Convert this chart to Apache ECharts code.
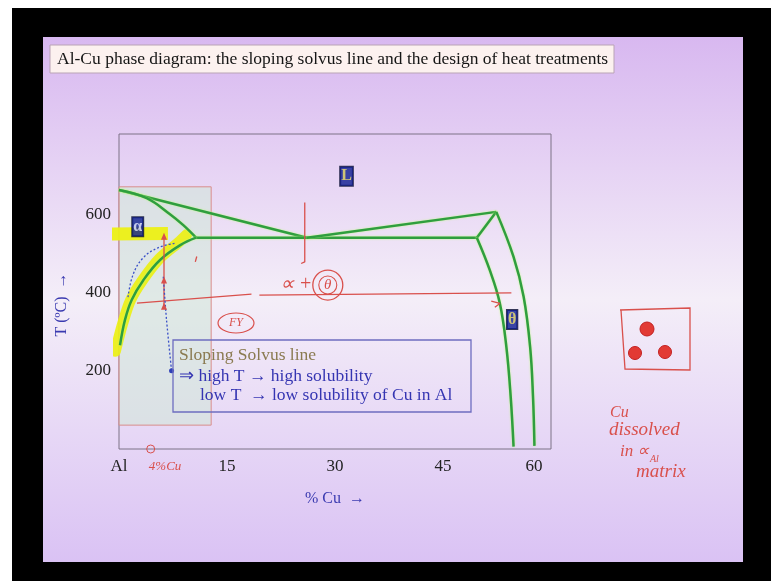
<!DOCTYPE html>
<html>
<head>
<meta charset="utf-8">
<script src="https://cdn.jsdelivr.net/npm/echarts@6/dist/echarts.min.js"></script>
<style>
  html, body { margin: 0; padding: 0; background: #ffffff; }
  #chart { width: 771px; height: 581px; }
</style>
</head>
<body>
<div id="chart"></div>
<script>
// Axis ticks
const xTickLabels = ['Al', '15', '30', '45', '60'];
const yTickLabels = [200, 400, 600];

// Al–Cu phase boundaries: [wt% Cu, T (°C)]
const liquidusAl    = [[0, 662], [26.1, 540]];
const solidusAl     = [[0, 662], [3.85, 641], [7.08, 600], [8.93, 572], [10.7, 540]];
const eutecticLine  = [[10.7, 540], [49.7, 540]];
const liquidusTheta = [[26.1, 540], [52.4, 606]];
const thetaPeak     = [[52.4, 606], [49.7, 540]];
const thetaLeft     = [[49.7, 540], [51.5, 457], [52.9, 372], [53.8, 261], [54.4, 134], [54.8, 6]];
const thetaRight    = [[52.4, 606], [54.8, 491], [56.2, 389], [57.1, 261], [57.5, 134], [57.7, 8]];
const solvus        = [[10.7, 540], [8.5, 521], [5.7, 483], [3.4, 432], [1.76, 381], [0.83, 330], [0.14, 265]];

// Highlighter strokes
const solvusHighlight = [[-0.5, 250], [0.5, 320], [1.6, 380], [3.3, 432], [5.6, 486], [8.2, 527], [9.4, 548]];
const alphaHighlight  = [[-2.0, 549], [6.8, 551]];

// Phase field labels
const phaseLabels = [
  { name: 'L', value: [31.6, 697] },
  { name: 'α', value: [2.6, 568] },
  { name: 'θ', value: [54.6, 331] }
];

// Pen annotations (data space)
const agingLevelA  = [[2.5, 373], [18.4, 396]];
const agingLevelB  = [[19.5, 393], [54.5, 399]];
const agingArrow   = [[51.7, 378], [52.9, 372], [52.2, 362]];
const eutecticDrop = [[25.8, 630], [25.8, 478], [25.3, 474]];
const quenchPath   = [[6.25, 544], [6.25, 432], [6.25, 365]];
const smallTick    = [[10.8, 492], [10.6, 478]];
const dottedBand   = [[1.25, 388], [1.94, 445], [3.33, 488], [5.4, 514], [7.8, 526]];
const dottedDrop   = [[6.15, 440], [6.6, 330], [7.3, 200]];
const shadedRegion = [[0, 61], [12.8, 670]];

const GREEN = '#2f9e3f';
const RED = '#d9504c';
const SERIF = 'Liberation Serif';

function boundary(data, smooth) {
  return {
    type: 'line', data: data, symbol: 'none', smooth: smooth || false, clip: false,
    lineStyle: { color: GREEN, width: 2.5, shadowColor: 'rgba(190,255,120,0.9)', shadowBlur: 2 },
    z: 5, silent: true
  };
}
function pen(data, extra) {
  return Object.assign({
    type: 'line', data: data, symbol: 'none', clip: false, smooth: 0.2,
    lineStyle: { color: RED, width: 1.3 }, z: 6, silent: true
  }, extra || {});
}

const chart = echarts.init(document.getElementById('chart'), null, { renderer: 'canvas' });

const option = {
  animation: false,
  backgroundColor: '#ffffff',
  grid: { left: 119, top: 134, width: 432, height: 315, show: true,
          borderColor: '#7d7286', borderWidth: 1, backgroundColor: 'transparent' },
  xAxis: {
    type: 'value', min: 0, max: 60, interval: 15,
    name: '% Cu  →', nameLocation: 'middle', nameGap: 42,
    nameTextStyle: { color: '#3a3ab0', fontFamily: SERIF, fontSize: 16 },
    axisLine: { show: false }, axisTick: { show: false }, splitLine: { show: false },
    axisLabel: {
      margin: 9, color: '#222', fontFamily: SERIF, fontSize: 17,
      formatter: function (v) {
        const i = Math.round(v / 15);
        if (i === 4) return '{s|' + xTickLabels[i] + '}';
        return xTickLabels[i] || '';
      },
      rich: { s: { color: '#222', fontFamily: SERIF, fontSize: 17, padding: [0, 34, 0, 0] } }
    }
  },
  yAxis: {
    type: 'value', min: 0, max: 805, interval: 200,
    name: 'T (ºC)  →', nameLocation: 'middle', nameGap: 49, nameRotate: 90,
    nameTextStyle: { color: '#3a3ab0', fontFamily: SERIF, fontSize: 16, padding: [0, 26, 0, 0] },
    axisLine: { show: false }, axisTick: { show: false }, splitLine: { show: false },
    axisLabel: {
      margin: 8, color: '#222', fontFamily: SERIF, fontSize: 17,
      formatter: function (v) { return yTickLabels.indexOf(v) >= 0 ? String(v) : ''; }
    }
  },
  series: [
    // highlighter underneath
    { type: 'line', data: solvusHighlight, symbol: 'none', smooth: 0.3, clip: false, z: 3, silent: true,
      lineStyle: { color: 'rgba(236,240,20,0.92)', width: 11, cap: 'round' } },
    { type: 'line', data: alphaHighlight, symbol: 'none', clip: false, z: 3, silent: true,
      lineStyle: { color: 'rgba(236,240,20,0.95)', width: 13 } },
    // shaded alpha region via markArea
    { type: 'line', data: [], symbol: 'none', z: 1, silent: true,
      markArea: { silent: true,
        itemStyle: { color: 'rgba(210,230,218,0.6)', borderColor: '#d98c8c', borderWidth: 1 },
        data: [[{ coord: shadedRegion[0] }, { coord: shadedRegion[1] }]] } },
    boundary(liquidusAl),
    boundary(solidusAl, 0.4),
    boundary(eutecticLine),
    boundary(liquidusTheta),
    boundary(thetaPeak),
    boundary(thetaLeft, 0.4),
    boundary(thetaRight, 0.4),
    boundary(solvus, 0.4),
    // pen marks
    pen(agingLevelA),
    pen(agingLevelB),
    pen(agingArrow, { smooth: false }),
    pen(eutecticDrop, { smooth: false }),
    pen(quenchPath, { smooth: false, symbol: 'triangle', symbolSize: [6, 7], showSymbol: true,
      itemStyle: { color: RED } }),
    pen(smallTick, { smooth: false }),
    { type: 'line', data: dottedBand, symbol: 'none', smooth: 0.4, clip: false, z: 6, silent: true,
      lineStyle: { color: '#3a50c8', width: 1.3, type: [2, 2] } },
    { type: 'line', data: dottedDrop, smooth: 0.3, clip: false, z: 6, silent: true,
      symbol: function (v, p) { return p.dataIndex === dottedDrop.length - 1 ? 'circle' : 'none'; },
      symbolSize: 5, showSymbol: true, itemStyle: { color: '#2f40b8' },
      lineStyle: { color: '#3a50c8', width: 1.3, type: [2, 2] } },
    // phase labels
    { type: 'scatter', symbolSize: 0, z: 8, silent: true,
      data: phaseLabels.map(function (d) {
        return { name: d.name, value: d.value,
          label: { color: d.name === 'α' ? '#e8ecff' : '#f3e36a' } };
      }),
      label: { show: true, position: 'inside', formatter: '{b}',
        fontFamily: SERIF, fontSize: 16, fontWeight: 'bold',
        backgroundColor: '#0c1c90', borderColor: '#050a30', borderWidth: 1, padding: [2, 1, 1, 1] } }
  ]
};

chart.setOption(option);

// Slide furniture and pen notes placed around the plot
function px(pt) { return chart.convertToPixel({ gridIndex: 0 }, pt); }
const thetaCircle = px([29, 419]);
const alphaPlus   = px([24.6, 419]);
const fyNote      = px([16.25, 322]);
const compMark    = px([4.4, 0]);
const compText    = px([6.4, -46]);

const noteFont = '17.5px "Liberation Serif"';

chart.setOption({
  graphic: [
    { type: 'rect', z: -20, silent: true, shape: { x: 12, y: 8, width: 759, height: 573 }, style: { fill: '#000000' } },
    { type: 'rect', z: -19, silent: true, shape: { x: 43, y: 37, width: 700, height: 525 },
      style: { fill: new echarts.graphic.LinearGradient(0, 0, 0, 1, [
        { offset: 0, color: '#d8b8f0' }, { offset: 0.5, color: '#f4eef8' }, { offset: 1, color: '#dac2f4' }]) } },
    // title
    { type: 'rect', z: 10, silent: true, shape: { x: 50, y: 45, width: 564, height: 28 },
      style: { fill: '#fcf1ef', stroke: '#b9a3b5', lineWidth: 1 } },
    { type: 'text', z: 11, silent: true, x: 57, y: 59,
      style: { text: 'Al-Cu phase diagram: the sloping solvus line and the design of heat treatments',
        font: noteFont, fill: '#151515', textVerticalAlign: 'middle' } },
    // note box
    { type: 'rect', z: 7, silent: true, shape: { x: 173, y: 340, width: 298, height: 72 },
      style: { fill: 'transparent', stroke: '#6d6dc0', lineWidth: 1.3 } },
    { type: 'text', z: 8, silent: true, x: 179, y: 355,
      style: { text: 'Sloping Solvus line', font: noteFont, fill: '#8a7a50', textVerticalAlign: 'middle' } },
    { type: 'text', z: 8, silent: true, x: 179, y: 376,
      style: { text: '⇒ high T → high solubility', font: noteFont, fill: '#3535b2', textVerticalAlign: 'middle' } },
    { type: 'text', z: 8, silent: true, x: 200, y: 395,
      style: { text: 'low T  → low solubility of Cu in Al', font: noteFont, fill: '#3535b2', textVerticalAlign: 'middle' } },
    // pen notes inside the plot
    { type: 'circle', z: 9, silent: true, shape: { cx: thetaCircle[0], cy: thetaCircle[1], r: 15 },
      style: { fill: 'transparent', stroke: RED, lineWidth: 1.3 } },
    { type: 'circle', z: 9, silent: true, shape: { cx: thetaCircle[0], cy: thetaCircle[1], r: 9 },
      style: { fill: 'transparent', stroke: RED, lineWidth: 1.1 } },
    { type: 'text', z: 9, silent: true, x: thetaCircle[0], y: thetaCircle[1],
      style: { text: 'θ', font: 'italic 15px "Liberation Serif"', fill: RED, textAlign: 'center', textVerticalAlign: 'middle' } },
    { type: 'text', z: 9, silent: true, x: alphaPlus[0], y: alphaPlus[1],
      style: { text: '∝ +', font: 'italic 20px "Liberation Serif"', fill: RED, textAlign: 'center', textVerticalAlign: 'middle' } },
    { type: 'ellipse', z: 9, silent: true, shape: { cx: fyNote[0], cy: fyNote[1], rx: 18, ry: 10 },
      style: { fill: 'transparent', stroke: RED, lineWidth: 1.2 } },
    { type: 'text', z: 9, silent: true, x: fyNote[0], y: fyNote[1],
      style: { text: 'FY', font: 'italic 12px "Liberation Serif"', fill: RED, textAlign: 'center', textVerticalAlign: 'middle' } },
    { type: 'circle', z: 9, silent: true, shape: { cx: compMark[0], cy: compMark[1], r: 4 },
      style: { fill: 'transparent', stroke: RED, lineWidth: 1 } },
    { type: 'text', z: 9, silent: true, x: compText[0], y: compText[1],
      style: { text: '4%Cu', font: 'italic 13px "Liberation Serif"', fill: RED, textAlign: 'center', textVerticalAlign: 'middle' } },
    // pen sketch on the right: alloy grain with dissolved Cu
    { type: 'polyline', z: 9, silent: true, shape: { points: [[620, 310], [690, 308], [690, 370], [625, 369], [621, 310]] },
      style: { fill: 'transparent', stroke: RED, lineWidth: 1.3 } },
    { type: 'circle', z: 9, silent: true, shape: { cx: 647, cy: 329, r: 7 }, style: { fill: '#e23a34', stroke: '#c22020', lineWidth: 1 } },
    { type: 'circle', z: 9, silent: true, shape: { cx: 635, cy: 353, r: 6.5 }, style: { fill: '#e23a34', stroke: '#c22020', lineWidth: 1 } },
    { type: 'circle', z: 9, silent: true, shape: { cx: 665, cy: 352, r: 6.5 }, style: { fill: '#e23a34', stroke: '#c22020', lineWidth: 1 } },
    { type: 'text', z: 9, silent: true, x: 610, y: 413,
      style: { text: 'Cu', font: 'italic 16px "Liberation Serif"', fill: RED, textVerticalAlign: 'middle' } },
    { type: 'text', z: 9, silent: true, x: 609, y: 430,
      style: { text: 'dissolved', font: 'italic 19px "Liberation Serif"', fill: RED, textVerticalAlign: 'middle' } },
    { type: 'text', z: 9, silent: true, x: 620, y: 452,
      style: { text: 'in ∝', font: 'italic 17px "Liberation Serif"', fill: RED, textVerticalAlign: 'middle' } },
    { type: 'text', z: 9, silent: true, x: 650, y: 459,
      style: { text: 'Al', font: 'italic 10px "Liberation Serif"', fill: RED, textVerticalAlign: 'middle' } },
    { type: 'text', z: 9, silent: true, x: 636, y: 472,
      style: { text: 'matrix', font: 'italic 19px "Liberation Serif"', fill: RED, textVerticalAlign: 'middle' } }
  ]
});
</script>
</body>
</html>
